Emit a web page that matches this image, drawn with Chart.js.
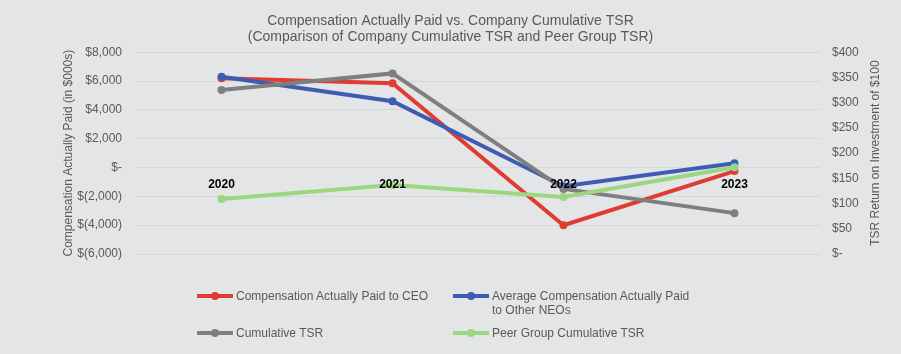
<!DOCTYPE html>
<html>
<head>
<meta charset="utf-8">
<script src="https://cdn.jsdelivr.net/npm/chart.js@4"></script>
<style>
    html, body { margin: 0; padding: 0; background: #e4e5e7; }
    #wrap { position: relative; width: 901px; height: 354px; font-family: "Liberation Sans", Arial, sans-serif; }
    #chart { position: absolute; left: 0; top: 0; }
    .leg { position: absolute; display: flex; align-items: flex-start; font-size: 12px; color: #595959; line-height: 14px; }
    .mark { position: relative; width: 36px; height: 14px; margin-right: 3px; flex: none; }
    .mark .ln { position: absolute; left: 0; right: 0; top: 5px; height: 4px; }
    .mark .dt { position: absolute; left: 14px; top: 3px; width: 8px; height: 8px; border-radius: 50%; }
</style>
</head>
<body>
<div id="wrap">
    <canvas id="chart" width="901" height="354"></canvas>
    <div id="legend"></div>
</div>
<script>
    const years = ['2020', '2021', '2022', '2023'];
    const ceoPaid = [6200, 5850, -4000, -250];
    const neoPaid = [6300, 4600, -1300, 300];
    const cumulativeTsr = [325, 358, 129, 81];
    const peerTsr = [109, 137, 113, 172];

    const seriesNames = ['Compensation Actually Paid to CEO', 'Average Compensation Actually Paid\nto Other NEOs', 'Cumulative TSR', 'Peer Group Cumulative TSR'];
    const seriesColors = ['#e03c32', '#3d5db5', '#7f7f7f', '#9bd680'];

    const grey = '#595959';
    const font = '"Liberation Sans", Arial, sans-serif';

    function money(v) {
        if (v === 0) return '$-';
        const s = Math.abs(v).toLocaleString('en-US');
        return v < 0 ? '$(' + s + ')' : '$' + s;
    }

    function line(label, data, color, axis, order) {
        return {
            label: label,
            data: data,
            yAxisID: axis,
            order: order,
            borderColor: color,
            backgroundColor: color,
            borderWidth: 4,
            pointRadius: 4,
            pointBorderWidth: 0,
            pointBackgroundColor: color,
            tension: 0
        };
    }

    // right axis title reads bottom-to-top, as on the left
    const rightTitle = {
        id: 'rightTitle',
        afterDraw(chart) {
            const ctx = chart.ctx;
            const a = chart.chartArea;
            ctx.save();
            ctx.translate(876, (a.top + a.bottom) / 2);
            ctx.rotate(-Math.PI / 2);
            ctx.font = '12px ' + font;
            ctx.fillStyle = grey;
            ctx.textAlign = 'center';
            ctx.textBaseline = 'middle';
            ctx.fillText('TSR Return on Investment of $100', 0, 0);
            ctx.restore();
        }
    };

    new Chart(document.getElementById('chart'), {
        type: 'line',
        data: {
            labels: years,
            datasets: [
                line(seriesNames[0], ceoPaid, seriesColors[0], 'y', 4),
                line(seriesNames[1], neoPaid, seriesColors[1], 'y', 3),
                line(seriesNames[2], cumulativeTsr, seriesColors[2], 'y1', 2),
                line(seriesNames[3], peerTsr, seriesColors[3], 'y1', 1)
            ]
        },
        options: {
            responsive: false,
            animation: false,
            layout: { padding: { left: 0, right: 0, bottom: 100 } },
            plugins: {
                legend: { display: false },
                tooltip: { enabled: false },
                title: {
                    display: true,
                    text: ['Compensation Actually Paid vs. Company Cumulative TSR', '(Comparison of Company Cumulative TSR and Peer Group TSR)'],
                    color: grey,
                    font: { family: font, size: 14, weight: 'normal', lineHeight: 1.15 },
                    padding: { top: 13, bottom: 7 }
                }
            },
            scales: {
                x: {
                    type: 'category',
                    offset: true,
                    position: { y: 0 },
                    grid: { display: false, drawTicks: false },
                    border: { display: false },
                    // year labels sit on top of the lines
                    ticks: { z: 1, color: '#000', padding: 10, font: { family: font, size: 12, weight: 'bold' } }
                },
                y: {
                    position: 'left',
                    min: -6000,
                    max: 8000,
                    afterFit(s) { s.width = 136; },
                    grid: { color: '#d6d7d9', drawTicks: false },
                    border: { display: false },
                    ticks: { stepSize: 2000, padding: 14, color: grey, font: { family: font, size: 12 }, callback: v => money(v) },
                    title: { display: true, text: 'Compensation Actually Paid (in $000s)', color: grey, font: { family: font, size: 12 }, padding: { top: 61, bottom: 0 } }
                },
                y1: {
                    position: 'right',
                    min: 0,
                    max: 400,
                    afterFit(s) { s.width = 81; },
                    grid: { display: false, drawTicks: false },
                    border: { display: false },
                    ticks: { stepSize: 50, padding: 12, color: grey, font: { family: font, size: 12 }, callback: v => money(v) }
                }
            }
        },
        plugins: [rightTitle]
    });

    // legend: two per row, like the original
    const legendPos = [[197, 289], [453, 289], [197, 326], [453, 326]];
    const legend = document.getElementById('legend');
    seriesNames.forEach((name, i) => {
        const item = document.createElement('div');
        item.className = 'leg';
        item.style.left = legendPos[i][0] + 'px';
        item.style.top = legendPos[i][1] + 'px';
        const mark = document.createElement('div');
        mark.className = 'mark';
        mark.innerHTML = '<div class="ln" style="background:' + seriesColors[i] + '"></div><div class="dt" style="background:' + seriesColors[i] + '"></div>';
        const text = document.createElement('div');
        text.innerHTML = name.replace('\n', '<br>');
        item.appendChild(mark);
        item.appendChild(text);
        legend.appendChild(item);
    });
</script>
</body>
</html>
